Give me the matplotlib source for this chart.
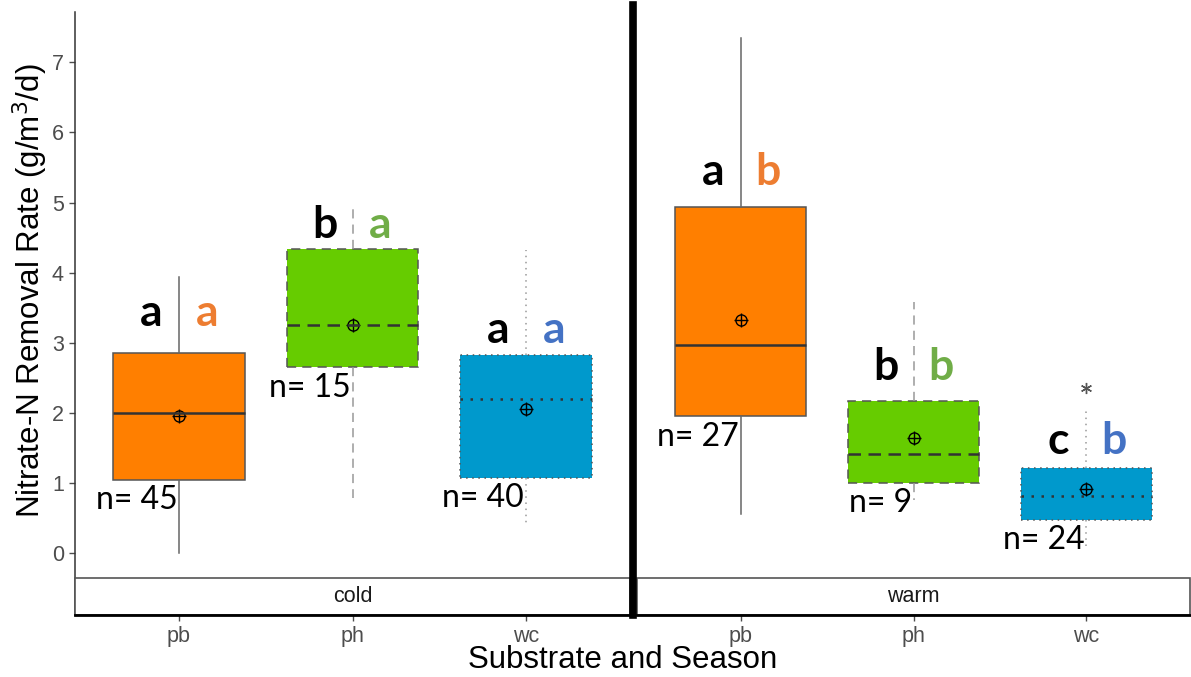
import matplotlib
matplotlib.use("Agg")
import matplotlib.pyplot as plt
from matplotlib.patches import Rectangle
from matplotlib.lines import Line2D
import matplotlib.transforms as mtransforms

# data
seasons = ["cold", "warm"]
substrates = ["pb", "ph", "wc"]
whislo = [[0.00, 0.78, 0.40], [0.56, 0.76, 0.04]]
q1 = [[1.04, 2.65, 1.07], [1.95, 1.00, 0.47]]
med = [[2.00, 3.25, 2.20], [2.97, 1.41, 0.81]]
q3 = [[2.85, 4.34, 2.82], [4.94, 2.17, 1.21]]
whishi = [[3.94, 4.92, 4.32], [7.35, 3.58, 2.04]]
means = [[1.96, 3.25, 2.06], [3.33, 1.64, 0.92]]
outliers = [[[], [], []], [[], [], [2.36]]]
n_obs = [[45, 15, 40], [27, 9, 24]]
season_letters = [["a", "b", "a"], ["a", "b", "c"]]
substrate_letters = [["a", "a", "a"], ["b", "b", "b"]]
letter_y = [[3.43, 4.68, 3.18], [5.43, 2.65, 1.60]]

fills = ["#FF7F00", "#66CC00", "#0099CC"]
letter_cols = ["#ED7D31", "#70AD47", "#4472C4"]
styles = ["-", (0, (6, 4)), (0, (1, 3))]
med_styles = ["-", (0, (5, 3)), (0, (1, 3))]

W, H = 1191, 677
fig = plt.figure(figsize=(W / 100, H / 100), dpi=100)


def frac(x0, y0, x1, y1):
    return [x0 / W, 1 - y1 / H, (x1 - x0) / W, (y1 - y0) / H]


axes = [fig.add_axes(frac(75, 12, 630, 615)), fig.add_axes(frac(637, 12, 1190, 615))]
ylo, yhi = -0.884, 7.718
strip_top = -0.357

for s, ax in enumerate(axes):
    for i in range(3):
        stat = dict(whislo=whislo[s][i], q1=q1[s][i], med=med[s][i], q3=q3[s][i],
                    whishi=whishi[s][i], fliers=outliers[s][i])
        ax.bxp([stat], positions=[i + 1], widths=0.76, patch_artist=True,
               showcaps=False,
               boxprops=dict(facecolor=fills[i], edgecolor="#555555", linewidth=1.1,
                             linestyle=styles[i]),
               whiskerprops=dict(color="#666666" if i == 0 else "#999999", linewidth=1.1,
                                 linestyle=styles[i]),
               medianprops=dict(color="#333333", linewidth=1.8, linestyle=med_styles[i]),
               flierprops=dict(marker=(6, 2, 0), markeredgecolor="#555555",
                               markersize=8, markeredgewidth=1))
        ax.plot(i + 1, means[s][i], marker="o", mfc="none", mec="black", ms=8, mew=1)
        ax.plot(i + 1, means[s][i], marker="+", mec="black", ms=10, mew=1)
        ax.text(i + 1 - 0.16, letter_y[s][i], season_letters[s][i], ha="center", va="center",
                fontsize=32, fontweight="bold", color="black", family="Lato")
        ax.text(i + 1 + 0.16, letter_y[s][i], substrate_letters[s][i], ha="center", va="center",
                fontsize=32, fontweight="bold", color=letter_cols[i], family="Lato")
        ax.text(i + 1 - 0.01, q1[s][i] - 0.29, f"n= {n_obs[s][i]}", ha="right", va="center",
                fontsize=23, color="black", family="Lato")

    ax.set_xlim(0.4, 3.6)
    ax.set_ylim(ylo, yhi)
    ax.set_xticks([1, 2, 3])
    ax.set_xticklabels(substrates)
    ax.tick_params(axis="x", colors="#4D4D4D", labelsize=15.5, length=4, width=1, pad=4)
    for lab in ax.get_xticklabels():
        lab.set_family("Liberation Sans")

    trans = mtransforms.blended_transform_factory(ax.transAxes, ax.transData)
    ax.add_patch(Rectangle((0, ylo), 1, strip_top - ylo, transform=trans, facecolor="white",
                           edgecolor="#555555", linewidth=1.2, clip_on=False, zorder=3))
    ax.text(0.5, (ylo + strip_top) / 2, seasons[s], transform=trans, ha="center", va="center",
            fontsize=15.5, color="#1A1A1A", family="Liberation Sans", zorder=4)

    for side in ["top", "right"]:
        ax.spines[side].set_visible(False)
    ax.spines["bottom"].set_color("black")
    ax.spines["bottom"].set_linewidth(2)
    ax.spines["bottom"].set_zorder(5)

axes[0].set_yticks(range(8))
axes[0].tick_params(axis="y", colors="#4D4D4D", labelsize=15.5, length=4, width=1, pad=4)
for lab in axes[0].get_yticklabels():
    lab.set_family("Liberation Sans")
axes[0].spines["left"].set_color("#333333")
axes[0].spines["left"].set_linewidth(1.1)
axes[1].spines["left"].set_visible(False)
axes[1].set_yticks([])

# thick separator between seasons
fig.add_artist(Line2D([633 / W, 633 / W], [1 - 5 / H, 1 - 615 / H], color="black",
                      linewidth=5.5, transform=fig.transFigure))

fig.text(30 / W, 1 - 291 / H, "Nitrate-N Removal Rate (g/m$^3$/d)", rotation=90,
         ha="center", va="center", fontsize=22.5, family="Liberation Sans")
fig.text(623 / W, 1 - 660 / H, "Substrate and Season", ha="center", va="center",
         fontsize=22.5, family="Liberation Sans")

fig.savefig("out.png", dpi=100)
